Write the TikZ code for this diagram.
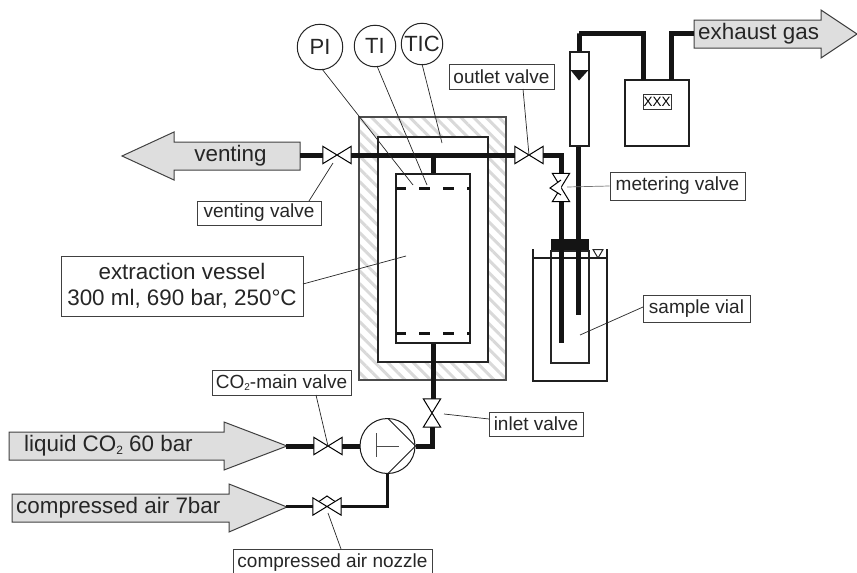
\documentclass[tikz,border=0pt]{standalone}
\usepackage{fontspec}
\setmainfont{Liberation Sans}
\usetikzlibrary{patterns.meta}

\definecolor{flowgray}{gray}{0.87}
\newcommand{\valveh}[2]{%
  \node[valvehbox] (#1) at (#2) {};
  \draw[valveline] (#1.south west) -- (#1.north east) -- (#1.south east) -- (#1.north west) -- cycle;}
\newcommand{\valvev}[2]{%
  \node[valvevbox] (#1) at (#2) {};
  \draw[valveline] (#1.north west) -- (#1.north east) -- (#1.south west) -- (#1.south east) -- cycle;}
\newcommand{\cotwo}[2]{CO\raisebox{-#2}{\fontsize{#1}{#1}\selectfont 2}}

\begin{document}
\begin{tikzpicture}[
  x=1pt,y=-1pt,
  valvehbox/.style={minimum width=28pt,minimum height=17pt,inner sep=0pt},
  valvevbox/.style={minimum width=17pt,minimum height=28pt,inner sep=0pt},
  valveline/.style={line width=1pt,fill=white,line join=miter},
  pipe/.style={line width=5pt,black!92},
  airpipe/.style={line width=2.8pt,black!92},
  wall/.style={line width=2pt,black!88},
  thinwall/.style={line width=1.5pt,black!85},
  leader/.style={line width=.7pt,black!85},
  flow/.style={draw=black!75,line width=1pt,fill=flowgray},
  tag/.style={draw=black!75,line width=.9pt,fill=white,inner sep=0pt,font=\fontsize{19}{21}\selectfont,text=black!85},
  flowtext/.style={font=\fontsize{22.4}{24}\selectfont,text=black!85,inner sep=0pt},
  instr/.style={draw=black!85,circle,line width=1pt,inner sep=0pt,font=\fontsize{22}{24}\selectfont,text=black!85},
  dashline/.style={line width=3pt,black!92,dash pattern=on 11pt off 13pt,dash phase=1pt}
]
  \useasboundingbox (0,0) rectangle (857,573);
  \clip (0,0) rectangle (857,573);

  % heater, jacket and vessel
  \draw[line width=1.3pt,draw=black!70,pattern={Lines[angle=-45,distance=9pt,line width=3pt]},pattern color=black!15] (359,117) rectangle (506,380);
  \node[draw=black!85,line width=1.5pt,fill=white,minimum width=110pt,minimum height=225pt,inner sep=0pt] (jacket) at (433,249.5) {};
  \node[draw=black!90,wall,fill=white,minimum width=74pt,minimum height=169pt,inner sep=0pt] (vessel) at (433,258.5) {};
  \draw[dashline] (396,188) -- (470,188);
  \draw[dashline] (396,333) -- (470,333);

  % gas arrows
  \draw[flow] (122,156) -- (174,132) -- (174,142) -- (300,142) -- (300,170) -- (174,170) -- (174,180) -- cycle;
  \coordinate (ventend) at (300,155);
  \node[flowtext] (venting) at (230.5,156) {venting};
  \draw[flow] (694,20) -- (821,20) -- (821,10) -- (857,34) -- (821,58) -- (821,48) -- (694,48) -- cycle;
  \coordinate (exhaustend) at (694,33);
  \node[flowtext,anchor=west] (exhaust) at (698,34) {exhaust gas};
  \draw[flow] (9,432) -- (224,432) -- (224,422) -- (287,446) -- (224,470) -- (224,460) -- (9,460) -- cycle;
  \coordinate (liquidtip) at (286,446);
  \node[flowtext,anchor=west] (liquid) at (24,446) {liquid \cotwo{12}{3pt} 60 bar};
  \draw[flow] (12,494) -- (229,494) -- (229,484) -- (287,507) -- (229,532) -- (229,522) -- (12,522) -- cycle;
  \coordinate (airtip) at (286,506.5);
  \node[flowtext,anchor=west] (air) at (16,508) {compressed air 7bar};

  % valves
  \valveh{ventvalve}{337,155}
  \valveh{outvalve}{529,155}
  \valvev{meterv}{561,187.5}
  \draw[valveline] (561,180) -- (550,188) -- (561,195);
  \valvev{inletv}{432,413}
  \valveh{mainv}{328,446}
  \valveh{nozzlev}{327,506.5}
  \draw[valveline] (319,501.5) -- (327,496) -- (335,501.5);

  % pump
  \node[draw=black!90,circle,line width=1pt,minimum size=55pt,inner sep=0pt] (pump) at (387.5,446) {};
  \draw[line width=1pt,black!90] (388,418.5) -- (pump.east) -- (388,473.5);
  \draw[line width=1pt,black!70] (376,433) -- (376,457) (376,446) -- (399,446);

  % pipes
  \coordinate (topbranch) at (433,155);
  \draw[pipe] (ventend) -- (ventvalve.west);
  \draw[pipe] (ventvalve.east) -- (outvalve.west);
  \draw[pipe] (topbranch) -- (vessel.north);
  \draw[pipe,line join=miter] (outvalve.east) -| (meterv.north);
  \draw[pipe] (vessel.south) -- (inletv.north -| vessel.south);
  \draw[pipe,line join=miter] (inletv.south) |- (pump.east);
  \draw[pipe] (liquidtip) -- (mainv.west);
  \draw[pipe] (mainv.east) -- (pump.west);
  \draw[airpipe] (airtip) -- (nozzlev.west);
  \draw[airpipe,line join=miter] (nozzlev.east) -| (pump.south);

  % rotameter and analyser
  \node[draw=black!90,wall,fill=white,minimum width=19pt,minimum height=94pt,inner sep=0pt] (rotameter) at (579.5,99) {};
  \fill[black!90] (570.5,70) -- (588.5,70) -- (579,80.5) -- cycle;
  \node[draw=black!90,wall,fill=white,minimum width=64pt,minimum height=66pt,inner sep=0pt] (meterbox) at (657,113) {};
  \node[draw=black!80,line width=.8pt,minimum width=28pt,minimum height=15pt,inner sep=0pt,font=\fontsize{13.5}{14}\selectfont] (display) at (657,101.5) {XXX};
  \coordinate (meterin) at (643,80);
  \coordinate (meterout) at (671,80);
  \draw[pipe,line join=miter] (rotameter.north) |- (579,33) -| (meterin);
  \draw[pipe,line join=miter] (meterout) |- (exhaustend);

  % sample vial
  \draw[wall] (533,249) -- (533,381) -- (607,381) -- (607,249);
  \draw[line width=1pt,black!85] (593,249.5) -- (603,249.5) -- (598,258) -- cycle;
  \node[draw=black!85,thinwall,fill=white,minimum width=38pt,minimum height=112pt,inner sep=0pt,anchor=north] (vial) at (570,250) {};
  \draw[wall] (533,258) -- (607,258);
  \node[fill=black!92,minimum width=38pt,minimum height=11pt,inner sep=0pt] (stopper) at (570,244.5) {};
  \draw[pipe] (meterv.south) -- (561,343);
  \draw[pipe] (rotameter.south -| 578,0) -- (578,315);

  % instruments
  \node[instr,minimum size=45.5pt] (pi) at (320,47) {PI};
  \node[instr,minimum size=41.5pt] (ti) at (375,46) {TI};
  \node[instr,minimum size=41.5pt] (tic) at (422,44) {TIC};
  \coordinate (piend) at (413,185);
  \coordinate (tiend) at (427,185);
  \coordinate (ticend) at (442,143);
  \draw[leader] (322,69) -- (piend);
  \draw[leader] (377,66) -- (tiend);
  \draw[leader] (422,64) -- (ticend);

  % labels
  \node[tag,minimum width=105pt,minimum height=25pt] (outlabel) at (501.5,76.5) {outlet valve};
  \node[tag,minimum width=135pt,minimum height=28pt] (meterlabel) at (677.5,186) {metering valve};
  \node[tag,minimum width=124pt,minimum height=24pt] (ventlabel) at (259,213) {venting valve};
  \node[tag,minimum width=242pt,minimum height=60pt,align=center,font=\fontsize{22.4}{26}\selectfont] (vessellabel) at (182,286) {extraction vessel\\300 ml, 690 bar, 250°C};
  \node[tag,minimum width=107pt,minimum height=27pt] (viallabel) at (696.5,308.5) {sample vial};
  \node[tag,minimum width=139pt,minimum height=25pt] (mainlabel) at (281.5,382.5) {\cotwo{10}{2.5pt}-main valve};
  \node[tag,minimum width=94pt,minimum height=24pt] (inletlabel) at (536,424) {inlet valve};
  \node[tag,minimum width=199pt,minimum height=28pt] (nozzlelabel) at (332.5,563) {compressed air nozzle};

  \coordinate (ventleadtip) at (333,163);
  \coordinate (vesselleadtip) at (406,256);
  \coordinate (vialleadtip) at (580,335);
  \coordinate (inletleadtip) at (444,414);
  \coordinate (nozzleleadtip) at (328,513);
  \draw[leader] (523,89) -- (outvalve.center);
  \draw[leader,black!55] (meterlabel.west) -- (567,187);
  \draw[leader] (309,201) -- (ventleadtip);
  \draw[leader] (303,284) -- (vesselleadtip);
  \draw[leader] (643,307) -- (vialleadtip);
  \draw[leader] (316,395) -- (mainv.center);
  \draw[leader] (489,419) -- (inletleadtip);
  \draw[leader] (341,549) -- (nozzleleadtip);
\end{tikzpicture}
\end{document}
